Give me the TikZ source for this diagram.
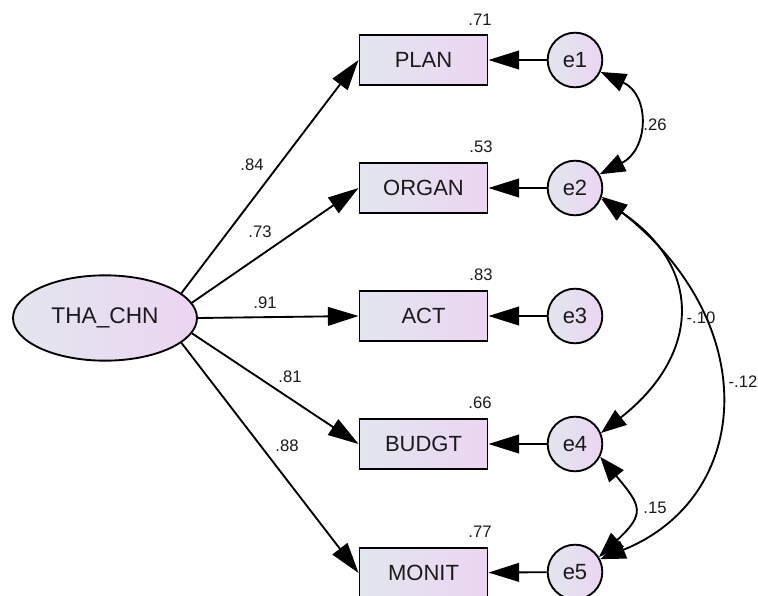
\documentclass[tikz,border=0pt]{standalone}
\usepackage{fontspec}
\setmainfont{Liberation Sans}
\usetikzlibrary{shapes.geometric,arrows.meta}
\definecolor{shL}{HTML}{E2E6EE}
\definecolor{shR}{HTML}{ECD5F2}
\definecolor{txt}{HTML}{1A1A1A}
\begin{document}
\begin{tikzpicture}[x=0.75pt,y=0.75pt,
  obs/.style={rectangle,draw,line width=1.4pt,minimum width=96pt,minimum height=38pt,
    left color=shL,right color=shR,font=\fontsize{16.5}{18}\selectfont,text=txt,inner sep=0pt},
  err/.style={circle,draw,line width=1.4pt,minimum size=41pt,inner sep=0pt,
    left color=shL,right color=shR,font=\fontsize{16.5}{18}\selectfont,text=txt},
  lat/.style={ellipse,draw,line width=1.4pt,minimum width=138pt,minimum height=64pt,inner sep=0pt,
    left color=shL,right color=shR,font=\fontsize{17}{18}\selectfont,text=txt},
  load/.style={line width=1.4pt,-{Triangle[length=23pt,width=14pt]}},
  cov/.style={line width=1.4pt,{Triangle[length=19pt,width=14pt]}-{Triangle[length=19pt,width=14pt]}},
  num/.style={font=\fontsize{12.5}{14}\selectfont,text=txt,inner sep=0pt}]
\clip (0,0) rectangle (758,-596);
\fill[white] (0,0) rectangle (758,-596);

\node[lat] (tha) at (105,-318) {THA\_CHN};

\node[obs] (plan)  at (423.5,-60)  {PLAN};
\node[obs] (organ) at (423.5,-188) {ORGAN};
\node[obs] (act)   at (423.5,-316) {ACT};
\node[obs] (budgt) at (423.5,-444) {BUDGT};
\node[obs] (monit) at (423.5,-573) {MONIT};

\node[err] (e1) at (575,-60)  {e1};
\node[err] (e2) at (575,-188) {e2};
\node[err] (e3) at (575,-316) {e3};
\node[err] (e4) at (575,-444) {e4};
\node[err] (e5) at (575,-572) {e5};

\draw[load] (tha.18)  -- (plan.west);
\draw[load] (tha.10)  -- (organ.west);
\draw[load] (tha.east) -- (act.west);
\draw[load] (tha.-10) -- (budgt.west);
\draw[load] (tha.-18) -- (monit.west);

\draw[load] (e1) -- (plan);
\draw[load] (e2) -- (organ);
\draw[load] (e3) -- (act);
\draw[load] (e4) -- (budgt);
\draw[load] (e5) -- (monit);

\draw[cov] (e1.-25) .. controls +(-25:55) and +(27:55) .. (e2.29);
\draw[cov] (e2.-22) .. controls +(-34:125) and +(38:125) .. (e4.23);
\draw[cov] (e2.-18) .. controls +(-38:205) and +(22:165) .. (e5.27);
\draw[cov] (e4.-27) .. controls +(-50:64) and +(43:64) .. (e5.32);

\node[num] (l84) at (252,-165) {.84};
\node[num] (l73) at (260,-232) {.73};
\node[num] (l91) at (265,-303) {.91};
\node[num] (l81) at (290,-377) {.81};
\node[num] (l88) at (287,-446) {.88};

\node[num] (r71) at (480,-20)  {.71};
\node[num] (r53) at (481,-147) {.53};
\node[num] (r83) at (481,-275) {.83};
\node[num] (r66) at (480,-403) {.66};
\node[num] (r77) at (480,-532) {.77};

\node[num] (c26) at (655,-125) {.26};
\node[num] (c10) at (701,-318) {-.10};
\node[num] (c12) at (743,-382) {-.12};
\node[num] (c15) at (655,-508) {.15};
\end{tikzpicture}
\end{document}
